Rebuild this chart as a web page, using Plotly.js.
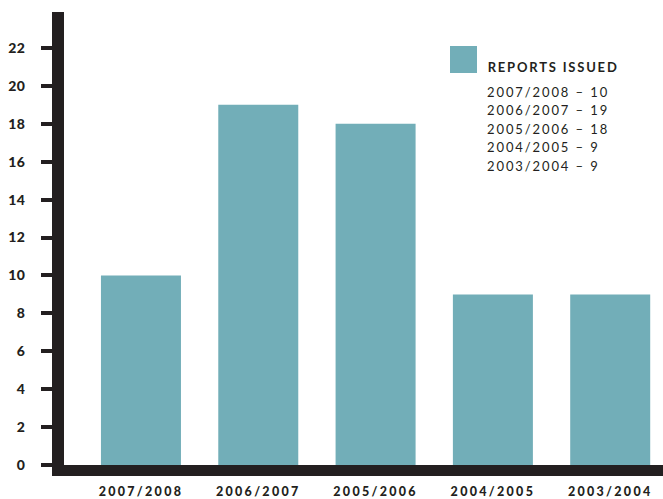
<!DOCTYPE html>
<html>
<head>
<meta charset="utf-8">
<script src="https://cdn.plot.ly/plotly-3.0.1.min.js"></script>
<style>
  html, body { margin: 0; padding: 0; background: #fff; }
  #chart { width: 663px; height: 499px; }
  .xtick text { letter-spacing: 2.3px; }
  .ytick text { letter-spacing: 0.4px; }
  .annotation-text { letter-spacing: 1.9px; }
  .annotation[data-index="0"] .annotation-text { letter-spacing: 1.8px; }
</style>
</head>
<body>
<div id="chart"></div>
<script>
// ---- data ----
const categories = ["2007/2008", "2006/2007", "2005/2006", "2004/2005", "2003/2004"];
const reportsIssued = [10, 19, 18, 9, 9];
const yTickValues = [0, 2, 4, 6, 8, 10, 12, 14, 16, 18, 20, 22];
const legendTitle = "REPORTS ISSUED";

// ---- style ----
const TEAL = "#72aeb8";
const INK = "#231f20";
const FONT = "Lato, 'Open Sans', sans-serif";

const trace = {
  type: "bar",
  x: categories,
  y: reportsIssued,
  marker: { color: TEAL, line: { width: 0 } },
  hoverinfo: "x+y",
  showlegend: false
};

// legend-like text block built from the data arrays
const annotations = [{
  xref: "paper", yref: "paper",
  x: 0.7028, y: 0.879,
  xanchor: "left", yanchor: "middle",
  text: "<b>" + legendTitle + "</b>",
  showarrow: false,
  font: { family: FONT, size: 13, color: INK }
}];
categories.forEach((c, i) => {
  annotations.push({
    xref: "paper", yref: "paper",
    x: 0.7028, y: 0.8234 - i * 0.0408,
    xanchor: "left", yanchor: "middle",
    text: c + " \u2013 " + reportsIssued[i],
    showarrow: false,
    font: { family: FONT, size: 13, color: INK }
  });
});

const layout = {
  width: 663, height: 499,
  margin: { l: 64, r: 0, t: 12, b: 34, pad: 0 },
  paper_bgcolor: "#ffffff",
  plot_bgcolor: "#ffffff",
  bargap: 0.318,
  showlegend: false,
  xaxis: {
    type: "category",
    range: [-0.656, 4.45],
    showline: true, linewidth: 11, linecolor: INK,
    showgrid: false, zeroline: false,
    ticks: "", ticklabelstandoff: 5,
    tickfont: { family: FONT, size: 12.5, color: INK, weight: 900 },
    fixedrange: true
  },
  yaxis: {
    range: [0, 23.9],
    tickmode: "array", tickvals: yTickValues, ticktext: yTickValues.map(String),
    showline: true, linewidth: 12, linecolor: INK,
    showgrid: false, zeroline: false,
    ticks: "outside", ticklen: 11, tickwidth: 4, tickcolor: INK,
    ticklabelstandoff: 13,
    tickfont: { family: FONT, size: 14, color: INK, weight: 900 },
    fixedrange: true
  },
  shapes: [{
    type: "rect", xref: "paper", yref: "paper",
    x0: 0.6444, x1: 0.6895, y0: 0.8653, y1: 0.925,
    fillcolor: TEAL, line: { width: 0 }
  }],
  annotations: annotations
};

Plotly.newPlot("chart", [trace], layout, { displayModeBar: false, staticPlot: true });
</script>
</body>
</html>
